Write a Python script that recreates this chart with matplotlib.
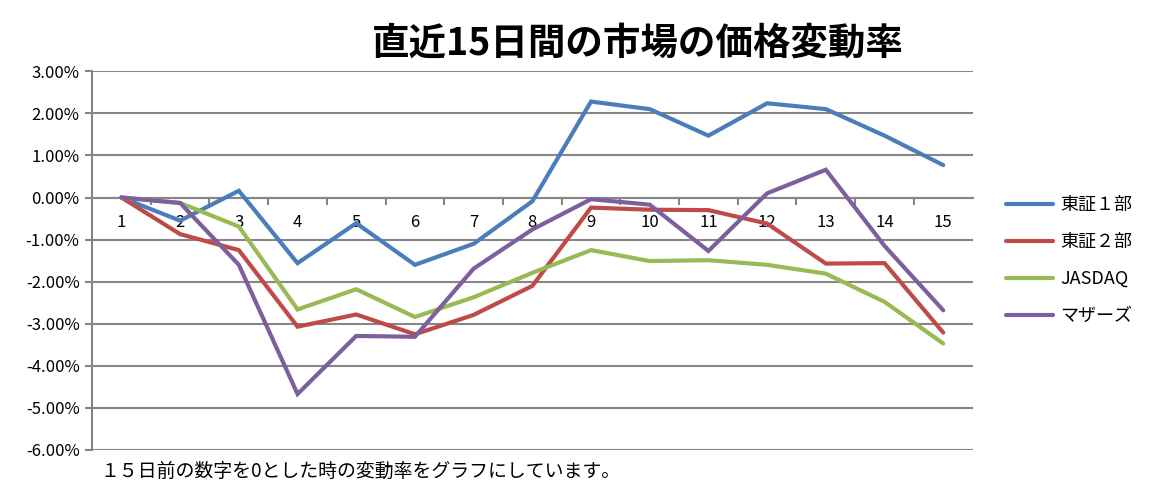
import numpy as np
import matplotlib.pyplot as plt
from matplotlib.ticker import FuncFormatter

plt.rcParams['font.family'] = ['Noto Sans CJK JP', 'DejaVu Sans']

# -----------------------------
# Data (percent change vs. 15 days ago)
# -----------------------------
days = list(range(1, 16))
tse1 = [0.00, -0.55, 0.16, -1.56, -0.61, -1.60, -1.10, -0.09, 2.28, 2.10, 1.47, 2.24, 2.10, 1.47, 0.77]
tse2 = [0.00, -0.87, -1.25, -3.07, -2.78, -3.25, -2.79, -2.10, -0.24, -0.29, -0.30, -0.62, -1.57, -1.56, -3.21]
jasdaq = [0.00, -0.13, -0.69, -2.66, -2.18, -2.84, -2.37, -1.79, -1.25, -1.51, -1.49, -1.60, -1.81, -2.48, -3.47]
mothers = [0.00, -0.13, -1.60, -4.67, -3.29, -3.31, -1.69, -0.76, -0.04, -0.17, -1.27, 0.10, 0.66, -1.15, -2.68]

names = ['東証１部', '東証２部', 'JASDAQ', 'マザーズ']
colors = ['#4A7EBB', '#BE4B48', '#98B954', '#7D5FA0']

title = '直近15日間の市場の価格変動率'
note = '１５日前の数字を0とした時の変動率をグラフにしています。'

# -----------------------------
# Plot
# -----------------------------
fig = plt.figure(figsize=(11.51, 4.97), dpi=100)
ax = fig.add_axes([0.080, 0.0946, 0.765, 0.762])

grid_c = '#868686'
for yv in np.arange(-6, 3.01, 1):
    ax.axhline(yv, color=grid_c, lw=1.5, zorder=1)

for vals, name, c in zip([tse1, tse2, jasdaq, mothers], names, colors):
    ax.plot(days, vals, color=c, lw=3.0, label=name, zorder=3,
            solid_joinstyle='miter', solid_capstyle='round')

ax.set_xlim(0.5, 15.5)
ax.set_ylim(-6, 3)

# y axis
ax.set_yticks(np.arange(-6, 3.01, 1))
ax.yaxis.set_major_formatter(FuncFormatter(lambda v, p: f'{v:.2f}%'))
ax.tick_params(axis='y', direction='out', length=5, color=grid_c, width=1.5,
               labelsize=12, pad=4)

# x axis crosses at zero
ax.spines['bottom'].set_position(('data', 0))
ax.spines['bottom'].set_color(grid_c)
ax.spines['bottom'].set_linewidth(1.5)
ax.spines['left'].set_color(grid_c)
ax.spines['left'].set_linewidth(1.5)
ax.spines['top'].set_visible(False)
ax.spines['right'].set_visible(False)

ax.set_xticks(days)
ax.set_xticklabels([str(d) for d in days])
ax.set_xticks(np.arange(1.5, 15.5, 1), minor=True)
ax.tick_params(axis='x', which='major', length=0, labelsize=12, pad=12)
ax.tick_params(axis='x', which='minor', direction='out', length=5,
               color=grid_c, width=1.5)

fig.text(0.554, 0.913, title, ha='center', va='center', fontsize=27,
         fontweight='bold')
fig.text(0.087, 0.052, note, ha='left', va='center', fontsize=13.6)

leg = ax.legend(loc='center left', bbox_to_anchor=(1.02, 0.50), frameon=False,
                fontsize=13, handlelength=2.6, labelspacing=1.05,
                handletextpad=0.4)

fig.savefig('out.png', dpi=100)
